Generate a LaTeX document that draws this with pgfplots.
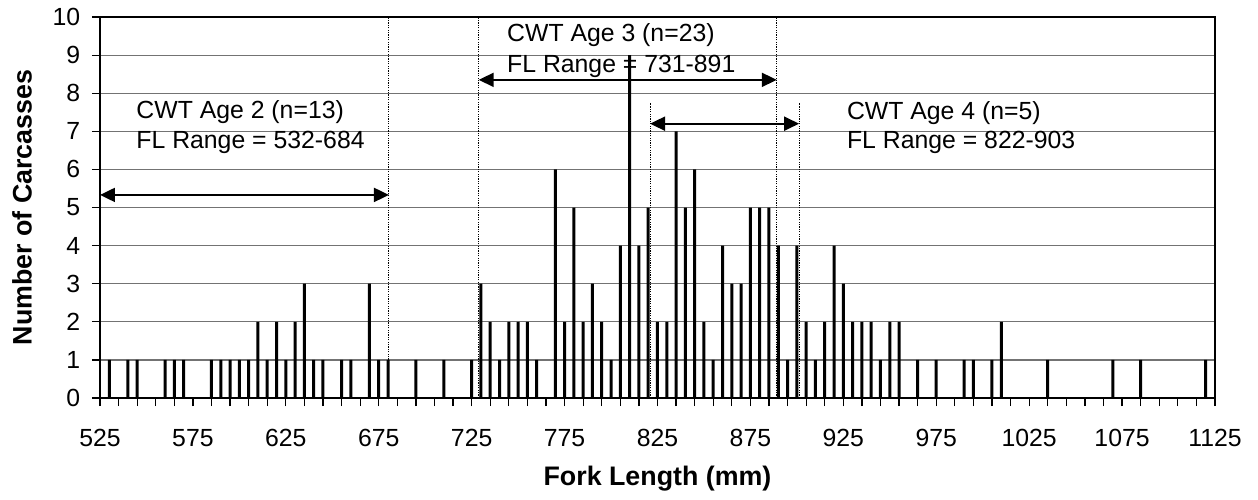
\documentclass[border=0pt]{standalone}
\usepackage{pgfplots}
\pgfplotsset{compat=1.18}
\usepackage{fontspec}
\setmainfont{Liberation Sans}
\usetikzlibrary{arrows.meta}

% fork length (mm, 5 mm bins) vs number of carcasses
\pgfplotstableread{
fl n
530 1
540 1
545 1
560 1
565 1
570 1
585 1
590 1
595 1
600 1
605 1
610 2
615 1
620 2
625 1
630 2
635 3
640 1
645 1
655 1
660 1
670 3
675 1
680 1
695 1
710 1
725 1
730 3
735 2
740 1
745 2
750 2
755 2
760 1
770 6
775 2
780 5
785 2
790 3
795 2
800 1
805 4
810 9
815 4
820 5
825 2
830 2
835 7
840 5
845 6
850 2
855 1
860 4
865 3
870 3
875 5
880 5
885 5
890 4
895 1
900 4
905 2
910 1
915 2
920 4
925 3
930 2
935 2
940 2
945 1
950 2
955 2
965 1
975 1
990 1
995 1
1005 1
1010 2
1035 1
1070 1
1085 1
1120 1
}\counts

\newcommand\lblfont{\fontsize{12.4}{15}\selectfont}
\newcommand\ttlfont{\fontsize{13.4}{16}\selectfont\bfseries}

\begin{document}
\begin{tikzpicture}
\begin{axis}[
  at={(0,0)}, anchor=south west,
  scale only axis, width=557.5pt, height=190.5pt,
  xmin=525, xmax=1125, ymin=0, ymax=10,
  xtick={525,575,...,1125},
  minor xtick={535,545,...,1115},
  ytick={0,1,...,10},
  tick pos=left, tick align=outside,
  major tick length=4pt, minor tick length=4pt,
  tick style={black, line width=0.6pt},
  ymajorgrids,
  grid style={black!55, line width=0.6pt},
  axis line style={line width=1pt},
  ticklabel style={font=\lblfont},
  xticklabel style={yshift=-8.2pt},
  yticklabel style={xshift=-2.4pt},
  /pgf/number format/assume math mode=true,
  /pgf/number format/1000 sep={},
  xlabel={Fork Length (mm)},
  ylabel={Number of Carcasses},
  label style={font=\ttlfont},
  xlabel style={at={([yshift=-40.5pt]axis description cs:0.5,0)}, anchor=center},
  ylabel style={at={([xshift=-39pt]axis description cs:0,0.5)}, anchor=center},
  clip=false,
]
\addplot[ybar, bar width=1.5pt, fill=black, draw=none] table[x=fl, y=n] {\counts};

\tikzset{dots/.style={line width=0.5pt, dash pattern=on 0.6pt off 0.6pt},
  rng/.style={line width=1pt, {Triangle[length=7.5pt,width=7pt]}-{Triangle[length=7.5pt,width=7pt]}}}
\draw[dots] (axis cs:680.5,0) -- (axis cs:680.5,10);
\draw[dots] (axis cs:728.8,0) -- (axis cs:728.8,10);
\draw[dots] (axis cs:889.2,0) -- (axis cs:889.2,10);
\draw[dots] (axis cs:821,0) -- (axis cs:821,7.75);
\draw[dots] (axis cs:901.2,0) -- (axis cs:901.2,7.75);

\draw[rng] (axis cs:525,5.33) -- (axis cs:680.5,5.33);
\draw[rng] (axis cs:728.8,8.35) -- (axis cs:889.2,8.35);
\draw[rng] (axis cs:821,7.2) -- (axis cs:901.2,7.2);

\node[anchor=base west, inner sep=0pt, font=\lblfont] at (axis cs:544.4,7.33) {CWT Age 2 (n=13)};
\node[anchor=base west, inner sep=0pt, font=\lblfont] at (axis cs:544.4,6.54) {FL Range = 532-684};
\node[anchor=base west, inner sep=0pt, font=\lblfont] at (axis cs:743.9,9.35) {CWT Age 3 (n=23)};
\node[anchor=base west, inner sep=0pt, font=\lblfont] at (axis cs:743.9,8.54) {FL Range = 731-891};
\node[anchor=base west, inner sep=0pt, font=\lblfont] at (axis cs:926.8,7.30) {CWT Age 4 (n=5)};
\node[anchor=base west, inner sep=0pt, font=\lblfont] at (axis cs:926.8,6.54) {FL Range = 822-903};
\end{axis}
\path (-50pt,-50.5pt) rectangle (579pt,199pt);
\end{tikzpicture}
\end{document}
